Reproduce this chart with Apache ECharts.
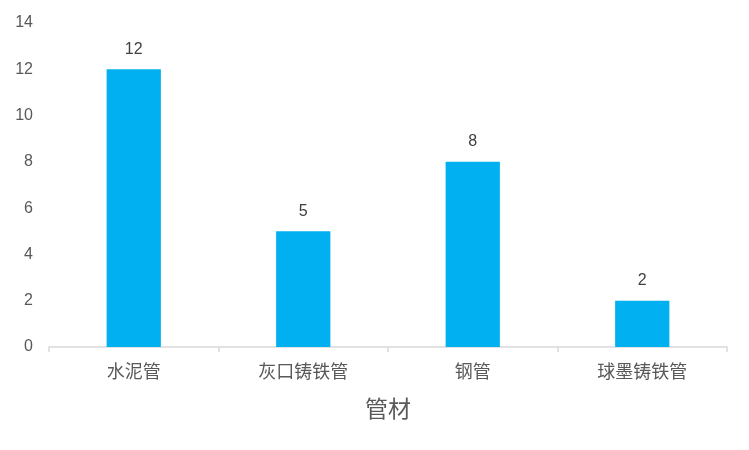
<!DOCTYPE html>
<html><head><meta charset="utf-8">
<script src="https://cdn.jsdelivr.net/npm/echarts@6/dist/echarts.min.js"></script>
<style>html,body{margin:0;padding:0;background:#fff}#c{width:749px;height:450px}</style>
</head><body><div id="c"></div>
<script>
const categories = ['水泥管', '灰口铸铁管', '钢管', '球墨铸铁管'];
const values = [12, 5, 8, 2];
const axisName = '管材';
const chart = echarts.init(document.getElementById('c'), null, {renderer: 'canvas'});
chart.setOption({
  animation: false,
  grid: {left: 49, right: 22, top: 23, bottom: 103, containLabel: false},
  xAxis: {
    type: 'category', data: categories,
    name: axisName, nameLocation: 'middle', nameGap: 50,
    nameTextStyle: {fontSize: 23, color: '#595959', fontWeight: 'normal', fontFamily: 'Noto Sans CJK SC', verticalAlign: 'top'},
    axisLine: {lineStyle: {color: '#D9D9D9', width: 1.5}},
    axisTick: {show: true, alignWithLabel: false, length: 5, lineStyle: {color: '#D9D9D9', width: 1.5}},
    axisLabel: {fontSize: 18, color: '#595959', margin: 15, fontFamily: 'Noto Sans CJK SC'}
  },
  yAxis: {
    type: 'value', min: 0, max: 14, interval: 2,
    axisLine: {show: false}, axisTick: {show: false}, splitLine: {show: false},
    axisLabel: {fontSize: 16, color: '#595959', margin: 16, fontFamily: 'Liberation Sans', padding: [3, 0, 0, 0]}
  },
  series: [{
    type: 'bar', data: values, barWidth: '32%',
    itemStyle: {color: '#00B0F0'},
    label: {show: true, position: 'top', distance: 12, fontSize: 16, color: '#404040', fontFamily: 'Liberation Sans'}
  }]
});
</script></body></html>
